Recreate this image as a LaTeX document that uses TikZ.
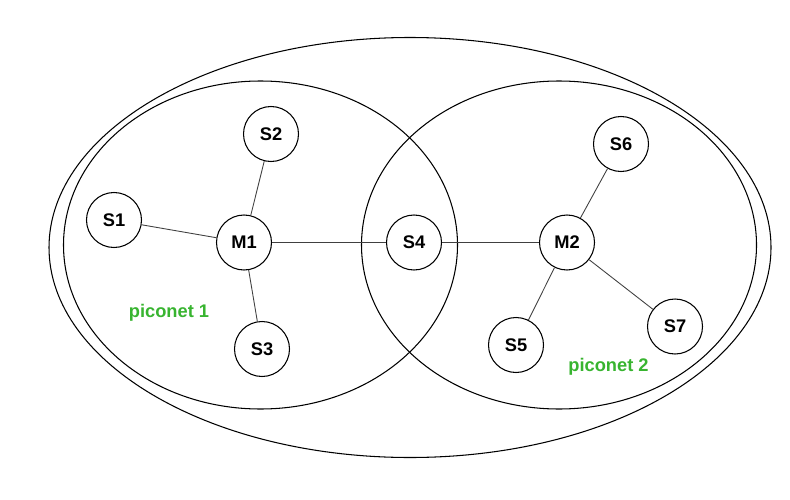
\documentclass[tikz,border=0pt]{standalone}
\usepackage{fontspec}
\setmainfont{Liberation Sans}
\usetikzlibrary{backgrounds}
\definecolor{piconetgreen}{RGB}{56,180,48}
\tikzset{
  dev/.style={circle, draw, line width=0.6pt, fill=white, minimum size=1.1cm, inner sep=0pt,
    font=\fontsize{10.4}{12}\selectfont\bfseries},
  link/.style={line width=0.5pt, black!75},
  net/.style={line width=0.6pt},
  netlabel/.style={text=piconetgreen, font=\fontsize{10.4}{12}\selectfont\bfseries}
}

\begin{document}
\begin{tikzpicture}
\useasboundingbox (0,0) rectangle (15.8,9.98);
%%%%%%%%%%%%%%%%%%%
% The scatternet

\draw [net] (8.2,5.03) ellipse (7.22 and 4.2);
\draw [net] (5.21,5.08) ellipse (3.94 and 3.28);
\draw [net] (11.18,5.08) ellipse (3.95 and 3.28);

%%%%%%%%%%%%%%%%%%%
% PICONET 1

\node [dev] (S1) at (2.28,5.58) {S1};
\node [dev] (S2) at (5.42,7.30) {S2};
\node [dev] (M1) at (4.88,5.13) {M1};
\node [dev] (S3) at (5.24,3.00) {S3};

%%%%%%%%%%%%%%%%%%%
% BRIDGE

\node [dev] (S4) at (8.28,5.13) {S4};

%%%%%%%%%%%%%%%%%%%
% PICONET 2

\node [dev] (M2) at (11.34,5.13) {M2};
\node [dev] (S6) at (12.42,7.10) {S6};
\node [dev] (S5) at (10.32,3.08) {S5};
\node [dev] (S7) at (13.50,3.45) {S7};

%%%%%%%%%%%%%%%%%%%%
% links

\draw [link] (M1) -- (S1);
\draw [link] (M1) -- (S2);
\draw [link] (M1) -- (S3);
\draw [link] (M1) -- (S4);
\draw [link] (S4) -- (M2);
\draw [link] (M2) -- (S6);
\draw [link] (M2) -- (S5);
\draw [link] (M2) -- (S7);

%%%%%%%%%%%%%%%%%%%%

\node [netlabel] (P1) at (3.38,3.72) {piconet 1};
\node [netlabel] (P2) at (12.17,2.65) {piconet 2};

\end{tikzpicture}
\end{document}
